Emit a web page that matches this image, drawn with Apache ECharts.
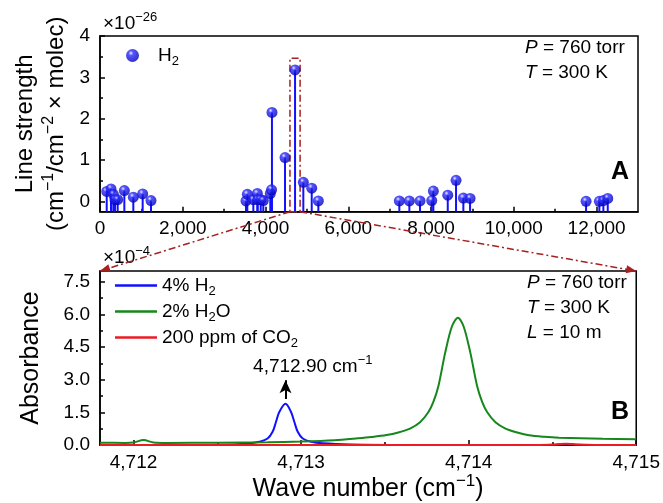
<!DOCTYPE html>
<html>
<head>
<meta charset="utf-8">
<script src="https://cdn.jsdelivr.net/npm/echarts@6/dist/echarts.min.js"></script>
<style>
  html, body { margin: 0; padding: 0; background: #fff; }
  #main { width: 663px; height: 503px; }
</style>
</head>
<body>
<div id="main"></div>
<script>
// Panel A: H2 line positions (cm-1) and line strengths (x1e-26)
const lineWave = [162, 266, 322, 362, 427, 588, 805, 1031, 1232,
  3528, 3560, 3705, 3802, 3810, 3883, 3946, 4115, 4145, 4155, 4471, 4713, 4913, 5116, 5276,
  7233, 7475, 7733, 8016, 8055, 8403, 8603, 8780, 8942,
  11745, 12066, 12163, 12269];
const lineStrength = [0.24, 0.30, 0.17, 0.04, 0.04, 0.26, 0.10, 0.18, 0.02,
  0.01, 0.17, 0.04, 0.19, 0.04, 0.04, 0.02, 0.19, 0.28, 2.15, 1.06, 3.18, 0.46, 0.32, 0.01,
  0.01, 0.01, 0.01, 0.02, 0.25, 0.15, 0.51, 0.08, 0.07,
  0.00, 0.00, 0.02, 0.07];
const ticksA = [0, 2000, 4000, 6000, 8000, 10000, 12000];
const minorTicksA = [1000, 3000, 5000, 7000, 9000, 11000];
const yTicksA = [0, 1, 2, 3, 4];
const yMinorA = [0.5, 1.5, 2.5, 3.5];

// Panel B: absorbance (x1e-4) around 4,713 cm-1
const waveH2 = [4711.8, 4712.4, 4712.6, 4712.69, 4712.75, 4712.8, 4712.83, 4712.85, 4712.87, 4712.907,
  4712.94, 4712.96, 4712.98, 4713.01, 4713.06, 4713.13, 4713.3, 4713.6, 4714.4, 4714.52, 4714.58, 4714.64, 4714.75, 4715];
const absH2 = [0.01, 0.01, 0.03, 0.08, 0.15, 0.30, 0.61, 1.06, 1.52, 1.90,
  1.52, 1.06, 0.61, 0.30, 0.15, 0.08, 0.03, 0.01, 0.01, 0.02, 0.05, 0.02, 0.01, 0.01];
const waveH2O = [4711.8, 4711.95, 4712.0, 4712.06, 4712.12, 4712.2, 4712.5, 4712.8, 4713.0, 4713.2, 4713.34, 4713.42,
  4713.51, 4713.58, 4713.65, 4713.71, 4713.76, 4713.79, 4713.82, 4713.86, 4713.90, 4713.936, 4713.97, 4714.01,
  4714.05, 4714.08, 4714.11, 4714.16, 4714.22, 4714.29, 4714.36, 4714.45, 4714.54, 4714.8, 4715];
const absH2O = [0.11, 0.10, 0.12, 0.23, 0.12, 0.10, 0.11, 0.13, 0.16, 0.22, 0.31, 0.37,
  0.46, 0.58, 0.76, 1.05, 1.52, 2.00, 2.73, 4.25, 5.45, 5.85, 5.45, 4.25,
  2.73, 2.00, 1.52, 1.05, 0.76, 0.58, 0.45, 0.38, 0.34, 0.29, 0.27];
const waveCO2 = [4711.8, 4714.4, 4714.52, 4714.58, 4714.64, 4714.75, 4715];
const absCO2 = [0.01, 0.01, 0.03, 0.06, 0.03, 0.01, 0.01];
const ticksB = [4712, 4713, 4714, 4715];
const minorTicksB = [4712.5, 4713.5, 4714.5];
const yTicksB = [0, 1.5, 3, 4.5, 6, 7.5];
const yMinorB = [0.75, 2.25, 3.75, 5.25, 6.75];

const FONT = '"Liberation Sans", Arial, sans-serif';
const rect = { x0: 4590, x1: 4835, top: 3.46 }; // zoom box drawn in panel A
const yMinA = -0.25, yMaxA = 4, xMinB = 4711.8, xMaxB = 4715, yMaxB = 8;

function richSet(size) {
  const s = Math.round(size * 0.68);
  const lh = Math.round(size * 1.3);
  return {
    n: { fontSize: size, fontFamily: FONT, color: '#000', lineHeight: lh },
    i: { fontSize: size, fontFamily: FONT, color: '#000', lineHeight: lh, fontStyle: 'italic' },
    sup: { fontSize: s, fontFamily: FONT, color: '#000', lineHeight: s, verticalAlign: 'top' },
    sub: { fontSize: s, fontFamily: FONT, color: '#000', lineHeight: s, verticalAlign: 'bottom' }
  };
}
const comma = v => v.toLocaleString('en-US');
const blue = '#1111ff', green = '#15871b', red = '#ec1c24', darkRed = '#a52222';

const sphere = {
  type: 'radial', x: 0.38, y: 0.32, r: 0.68,
  colorStops: [
    { offset: 0, color: '#e8e8ff' },
    { offset: 0.28, color: '#2a2aff' },
    { offset: 1, color: '#0000b4' }
  ]
};

const tickStyle = { color: '#000', width: 1.5 };
function majorX(grid, min, max, vals, fmt) {
  return {
    gridIndex: grid, type: 'value', min: min, max: max, position: 'bottom',
    axisLine: { onZero: false, lineStyle: { color: '#000', width: 1.5 } },
    axisTick: { inside: true, length: 5, customValues: vals, lineStyle: tickStyle },
    axisLabel: { customValues: vals, formatter: fmt, fontSize: 19, fontFamily: FONT, color: '#000', margin: 8 },
    splitLine: { show: false }
  };
}
function minorAxis(grid, min, max, vals, pos) {
  return {
    gridIndex: grid, type: 'value', min: min, max: max, position: pos,
    axisLine: { show: false, onZero: false },
    axisTick: { inside: true, length: 3, customValues: vals, lineStyle: tickStyle },
    axisLabel: { show: false },
    splitLine: { show: false }
  };
}
function majorY(grid, min, max, vals, fmt) {
  return {
    gridIndex: grid, type: 'value', min: min, max: max, position: 'left',
    axisLine: { show: true, onZero: false, lineStyle: { color: '#000', width: 1.5 } },
    axisTick: { show: true, inside: true, length: 5, customValues: vals, lineStyle: tickStyle },
    axisLabel: { customValues: vals, formatter: fmt, fontSize: 19, fontFamily: FONT, color: '#000', margin: 10 },
    splitLine: { show: false }
  };
}

const chart = echarts.init(document.getElementById('main'));

const xA = majorX(0, 0, 13000, ticksA, comma);
const xB = majorX(1, xMinB, xMaxB, ticksB, comma);
xB.name = '{n|Wave number (cm}{sup|\u22121}{n|)}';
xB.nameLocation = 'middle';
xB.nameGap = 27;
xB.nameTextStyle = { rich: richSet(25) };

const yA = majorY(0, yMinA, yMaxA, yTicksA, v => String(v));
yA.name = '{n|Line strength}\n{n|(cm}{sup|\u22121}{n|/cm}{sup|\u22122}{n| \u00d7 molec)}';
yA.nameLocation = 'middle';
yA.nameGap = 28;
yA.nameTextStyle = { rich: richSet(24) };

const yB = majorY(1, 0, yMaxB, yTicksB, v => v.toFixed(1));
yB.name = '{n|Absorbance}';
yB.nameLocation = 'middle';
yB.nameGap = 52;
yB.nameTextStyle = { rich: richSet(25) };

const legendNames = {
  'H2': '{n|H}{sub|2}',
  '4% H2': '{n|4% H}{sub|2}',
  '2% H2O': '{n|2% H}{sub|2}{n|O}',
  '200 ppm of CO2': '{n|200 ppm of CO}{sub|2}'
};

const option = {
  animation: false,
  backgroundColor: '#fff',
  grid: [
    { left: 100, right: 25, top: 36, height: 175.7, show: true, borderColor: '#000', borderWidth: 1.5 },
    { left: 100, right: 25, top: 271, height: 175.7, show: true, borderColor: '#000', borderWidth: 1.5 }
  ],
  xAxis: [xA, minorAxis(0, 0, 13000, minorTicksA, 'bottom'), xB, minorAxis(1, xMinB, xMaxB, minorTicksB, 'bottom')],
  yAxis: [yA, minorAxis(0, yMinA, yMaxA, yMinorA, 'left'), yB, minorAxis(1, 0, yMaxB, yMinorB, 'left')],
  legend: [
    {
      data: ['H2'], left: 121, top: 41, orient: 'vertical',
      itemWidth: 13, itemHeight: 13, icon: 'circle',
      formatter: n => legendNames[n],
      textStyle: { rich: richSet(19), padding: [0, 0, 0, 14] }
    },
    {
      data: ['4% H2', '2% H2O', '200 ppm of CO2'], left: 110, top: 271, orient: 'vertical',
      icon: 'rect', itemWidth: 42, itemHeight: 2.5, itemGap: 4,
      formatter: n => legendNames[n],
      textStyle: { rich: richSet(19) }
    }
  ],
  series: [
    {
      name: 'stems', type: 'custom', xAxisIndex: 0, yAxisIndex: 0,
      data: lineWave.map((w, i) => [w, lineStrength[i]]),
      renderItem: (params, api) => {
        const top = api.coord([api.value(0), api.value(1)]);
        const base = api.coord([api.value(0), yMinA]);
        return {
          type: 'line',
          shape: { x1: top[0], y1: top[1], x2: base[0], y2: base[1] },
          style: { stroke: blue, lineWidth: 2 }
        };
      },
      markArea: {
        silent: true,
        itemStyle: { color: 'rgba(0,0,0,0)', borderColor: darkRed, borderWidth: 1.5, borderType: [7, 3, 2, 3] },
        data: [[{ coord: [rect.x0, yMinA] }, { coord: [rect.x1, rect.top] }]]
      },
      z: 3
    },
    {
      name: 'H2', type: 'scatter', xAxisIndex: 0, yAxisIndex: 0,
      data: lineWave.map((w, i) => [w, lineStrength[i]]),
      symbol: 'circle', symbolSize: 11,
      itemStyle: { color: sphere },
      z: 4
    },
    {
      name: '4% H2', type: 'line', xAxisIndex: 2, yAxisIndex: 2,
      data: waveH2.map((w, i) => [w, absH2[i]]),
      smooth: 0.35, showSymbol: false, symbol: 'none',
      lineStyle: { color: blue, width: 2 }, itemStyle: { color: blue },
      markLine: {
        silent: true, symbol: ['none', 'arrow'], symbolSize: [9, 13],
        lineStyle: { color: '#000', width: 2, type: 'solid' },
        label: { show: false },
        data: [[{ coord: [4712.907, 2.12] }, { coord: [4712.907, 2.98] }]]
      },
      markPoint: {
        silent: true, symbol: 'rect', symbolSize: 1,
        itemStyle: { color: 'rgba(0,0,0,0)' },
        label: {
          show: true, position: 'inside',
          formatter: '{n|4,712.90 cm}{sup|\u22121}',
          rich: richSet(19)
        },
        data: [{ coord: [4713.07, 3.6] }]
      }
    },
    {
      name: '2% H2O', type: 'line', xAxisIndex: 2, yAxisIndex: 2,
      data: waveH2O.map((w, i) => [w, absH2O[i]]),
      smooth: 0.3, showSymbol: false, symbol: 'none',
      lineStyle: { color: green, width: 2 }, itemStyle: { color: green }
    },
    {
      name: '200 ppm of CO2', type: 'line', xAxisIndex: 2, yAxisIndex: 2,
      data: waveCO2.map((w, i) => [w, absCO2[i]]),
      smooth: 0.4, showSymbol: false, symbol: 'none',
      lineStyle: { color: red, width: 2 }, itemStyle: { color: red }
    }
  ]
};

chart.setOption(option);

// connector lines from the zoom box in A to the corners of B
const pA0 = chart.convertToPixel({ seriesIndex: 0 }, [rect.x0, yMinA]);
const pA1 = chart.convertToPixel({ seriesIndex: 0 }, [rect.x1, yMinA]);
const pB0 = chart.convertToPixel({ seriesIndex: 2 }, [xMinB, yMaxB]);
const pB1 = chart.convertToPixel({ seriesIndex: 2 }, [xMaxB, yMaxB]);

function arrowHead(from, to, len, half) {
  const dx = to[0] - from[0], dy = to[1] - from[1];
  const d = Math.hypot(dx, dy);
  const ux = dx / d, uy = dy / d;
  const bx = to[0] - ux * len, by = to[1] - uy * len;
  return [[to[0], to[1]], [bx - uy * half, by + ux * half], [bx + uy * half, by - ux * half]];
}

const dashDot = { stroke: darkRed, lineWidth: 1.5, lineDash: [7, 3, 2, 3] };
const r19 = richSet(19);

chart.setOption({
  graphic: [
    { type: 'line', shape: { x1: pA0[0], y1: pA0[1], x2: pB0[0], y2: pB0[1] }, style: dashDot, z: 10 },
    { type: 'line', shape: { x1: pA1[0], y1: pA1[1], x2: pB1[0], y2: pB1[1] }, style: dashDot, z: 10 },
    { type: 'polygon', shape: { points: arrowHead(pA0, pB0, 10, 4) }, style: { fill: darkRed }, z: 10 },
    { type: 'polygon', shape: { points: arrowHead(pA1, pB1, 10, 4) }, style: { fill: darkRed }, z: 10 },
    { type: 'text', left: 103, top: 11, style: { text: '{n|\u00d710}{sup|\u221226}', rich: r19 } },
    { type: 'text', left: 103, top: 245, style: { text: '{n|\u00d710}{sup|\u22124}', rich: r19 } },
    {
      type: 'text', left: 525, top: 38,
      style: { text: '{i|P}{n| = 760 torr}\n{i|T}{n| = 300 K}', rich: richSet(19) }
    },
    {
      type: 'text', left: 527, top: 273,
      style: { text: '{i|P}{n| = 760 torr}\n{i|T}{n| = 300 K}\n{i|L}{n| = 10 m}', rich: richSet(19) }
    },
    { type: 'text', left: 611, top: 160, style: { text: 'A', font: 'bold 25px ' + FONT, fill: '#000' } },
    { type: 'text', left: 611, top: 400, style: { text: 'B', font: 'bold 25px ' + FONT, fill: '#000' } }
  ]
});
</script>
</body>
</html>
